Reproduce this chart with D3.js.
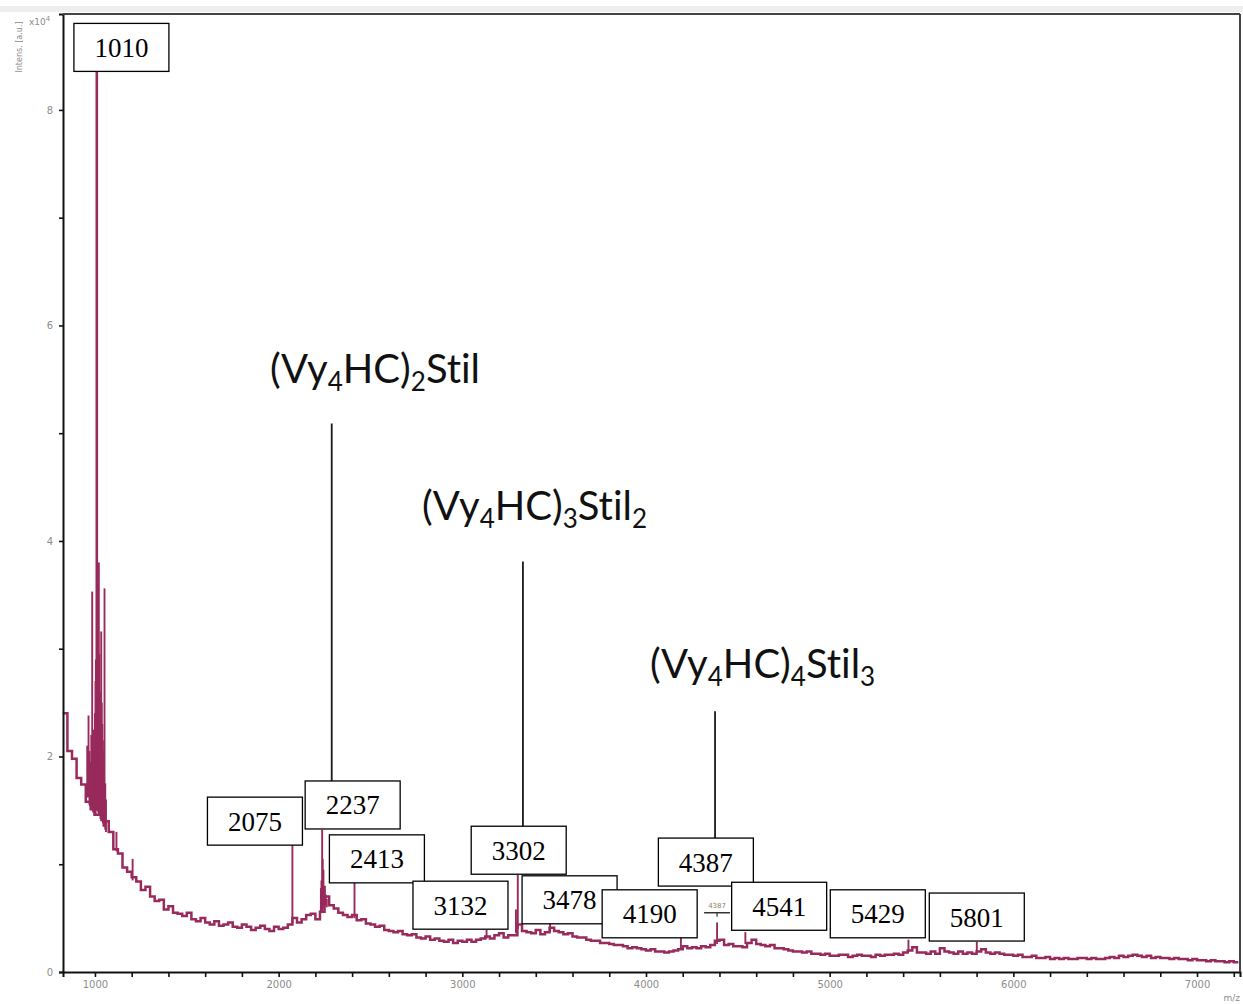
<!DOCTYPE html>
<html>
<head>
<meta charset="utf-8">
<script src="https://cdn.jsdelivr.net/npm/d3@7"></script>
<style>
  body { margin: 0; background: #fff; }
  svg { display: block; }
</style>
</head>
<body>
<svg id="chart" width="1243" height="1004"></svg>
<script>
// ---- MALDI-TOF spectrum values (intensity in units of 10^4 a.u.) ----

// Continuum trace, sampled every 25 m/z starting at 825
const traceStartMz = 825;
const traceStepMz = 25;
const traceIntensity = [
  2.40, 2.05, 1.98, 1.80, 1.74, 1.58, 1.55, 1.46, 1.52, 1.40, 1.30, 1.14, 1.10, 0.97, 0.93, 0.88, 0.84, 0.76, 0.79, 0.70,
  0.66, 0.67, 0.58, 0.61, 0.55, 0.54, 0.52, 0.55, 0.49, 0.47, 0.50, 0.46, 0.44, 0.47, 0.43, 0.44, 0.46, 0.42, 0.41, 0.44,
  0.42, 0.39, 0.41, 0.43, 0.40, 0.38, 0.42, 0.40, 0.41, 0.44, 0.50, 0.46, 0.49, 0.53, 0.54, 0.49, 0.56, 0.70, 0.62, 0.59,
  0.55, 0.53, 0.51, 0.53, 0.48, 0.49, 0.45, 0.44, 0.42, 0.43, 0.39, 0.38, 0.37, 0.38, 0.35, 0.34, 0.35, 0.32, 0.31, 0.33,
  0.30, 0.31, 0.29, 0.28, 0.30, 0.27, 0.29, 0.28, 0.30, 0.28, 0.30, 0.31, 0.33, 0.31, 0.34, 0.36, 0.32, 0.34, 0.34, 0.44,
  0.38, 0.37, 0.36, 0.39, 0.35, 0.37, 0.41, 0.38, 0.37, 0.35, 0.36, 0.33, 0.32, 0.32, 0.30, 0.29, 0.29, 0.27, 0.27, 0.26,
  0.25, 0.25, 0.24, 0.22, 0.23, 0.22, 0.21, 0.20, 0.21, 0.19, 0.19, 0.18, 0.19, 0.20, 0.21, 0.24, 0.22, 0.23, 0.22, 0.24,
  0.23, 0.25, 0.29, 0.30, 0.25, 0.26, 0.24, 0.24, 0.23, 0.27, 0.30, 0.26, 0.25, 0.24, 0.25, 0.22, 0.22, 0.21, 0.20, 0.19,
  0.19, 0.18, 0.19, 0.17, 0.17, 0.16, 0.17, 0.15, 0.15, 0.16, 0.16, 0.14, 0.15, 0.16, 0.15, 0.15, 0.14, 0.16, 0.15, 0.16,
  0.16, 0.17, 0.16, 0.18, 0.20, 0.23, 0.18, 0.18, 0.17, 0.19, 0.17, 0.22, 0.19, 0.18, 0.17, 0.19, 0.17, 0.18, 0.17, 0.19,
  0.21, 0.18, 0.17, 0.18, 0.17, 0.16, 0.16, 0.15, 0.16, 0.14, 0.14, 0.15, 0.13, 0.13, 0.14, 0.12, 0.13, 0.12, 0.13, 0.12,
  0.12, 0.13, 0.13, 0.12, 0.13, 0.12, 0.12, 0.13, 0.14, 0.13, 0.15, 0.14, 0.15, 0.16, 0.15, 0.14, 0.15, 0.13, 0.14, 0.13,
  0.13, 0.12, 0.13, 0.12, 0.12, 0.11, 0.12, 0.11, 0.11, 0.10, 0.11, 0.10, 0.10, 0.09, 0.10, 0.09, 0.09
];

// Centroided peaks: position, apex and foot of each spike
const peakMz   = [958, 965, 970, 975, 980, 985, 990, 996, 1000, 1003, 1005, 1008, 1010, 1012, 1015, 1018, 1021, 1024,
                  1027, 1030, 1034, 1037, 1040, 1043, 1046, 1049, 1052, 1056, 1060, 1117, 1205,
                  2075, 2230, 2233, 2237, 2240, 2244, 2247, 2252, 2256, 2262, 2413,
                  3132, 3292, 3302, 3478, 4190, 4387, 4541, 5429, 5801];
const peakTop  = [2.10, 2.38, 2.05, 1.95, 2.20, 3.53, 2.25, 2.05, 2.40, 2.70, 2.90, 2.55, 8.80, 2.80, 3.10, 2.45, 3.80, 2.95,
                  2.60, 2.35, 3.16, 2.50, 2.30, 2.15, 1.90, 2.05, 3.56, 1.75, 1.60, 1.30, 1.05,
                  1.18, 0.78, 0.85, 1.32, 1.05, 0.95, 0.75, 0.80, 0.72, 0.68, 0.83,
                  0.39, 0.58, 0.90, 0.45, 0.32, 0.46, 0.37, 0.30, 0.28];
const peakBase = [1.62, 1.62, 1.55, 1.50, 1.50, 1.50, 1.48, 1.45, 1.45, 1.45, 1.50, 1.50, 1.50, 1.50, 1.50, 1.48, 1.45, 1.45,
                  1.45, 1.42, 1.40, 1.40, 1.40, 1.38, 1.35, 1.35, 1.35, 1.32, 1.30, 1.12, 0.85,
                  0.45, 0.55, 0.55, 0.55, 0.58, 0.60, 0.62, 0.62, 0.62, 0.60, 0.50,
                  0.31, 0.36, 0.40, 0.37, 0.21, 0.26, 0.26, 0.19, 0.19];

// Labelled masses
const labelText = ["1010", "2075", "2237", "2413", "3132", "3302", "3478", "4190", "4387", "4541", "5429", "5801"];

// Axis ticks
const xMajorTicks = [1000, 2000, 3000, 4000, 5000, 6000, 7000];
const xTickLabels = ["1000", "2000", "3000", "4000", "5000", "6000", "7000"];
const yMajorTicks = [0, 2, 4, 6, 8];
const yTickLabels = ["0", "2", "4", "6", "8"];

// Oligomer assignments: [text, subscript?] runs
const assignmentParts = [
  [["(Vy", 0], ["4", 1], ["HC)", 0], ["2", 1], ["Stil", 0]],
  [["(Vy", 0], ["4", 1], ["HC)", 0], ["3", 1], ["Stil", 0], ["2", 1]],
  [["(Vy", 0], ["4", 1], ["HC)", 0], ["4", 1], ["Stil", 0], ["3", 1]]
];

// ---- Layout (data coordinates for annotation placement) ----
const labelBoxMz  = [1144, 1871, 2403, 2535, 2990, 3307, 3584, 4020, 4326, 4725, 5262, 5801];
const labelBoxInt = [8.58, 1.40, 1.55, 1.05, 0.62, 1.13, 0.67, 0.54, 1.02, 0.61, 0.54, 0.51];
const boxW = 95, boxH = 48;

const assignTextMz  = [1953, 2780, 4022];
const assignTextInt = [5.47, 4.19, 2.73];
const assignLineMz  = [2289, 3330, 4376];
const assignLineTop = [5.09, 3.81, 2.42];
const assignLineBox = [2, 5, 8];   // index of the label box each leader line ends on

// ---- Chart ----
const svg = d3.select("#chart");
const plotLeft = 63, plotRight = 1240, plotTop = 14, plotBottom = 972;

const x = d3.scaleLinear().domain([826, 7234]).range([plotLeft, plotRight]);
const y = d3.scaleLinear().domain([0, 8.89]).range([plotBottom, plotTop]);

const traceColor = "#982a5c";

// faint band above the frame
svg.append("rect").attr("x", 0).attr("y", 6).attr("width", 1243).attr("height", 6).attr("fill", "#eeeeee");

// continuum trace
const trace = traceIntensity.map((v, i) => [traceStartMz + i * traceStepMz, v]);
svg.append("path")
  .datum(trace)
  .attr("fill", "none")
  .attr("stroke", traceColor)
  .attr("stroke-width", 2.5)
  .attr("stroke-linejoin", "miter")
  .attr("d", d3.line().x(d => x(d[0])).y(d => y(d[1])).curve(d3.curveStepAfter));

// peak spikes
svg.append("g").selectAll("line")
  .data(peakMz.map((m, i) => ({ m, t: peakTop[i], b: peakBase[i] })))
  .join("line")
  .attr("x1", d => x(d.m)).attr("x2", d => x(d.m))
  .attr("y1", d => y(d.b)).attr("y2", d => y(d.t))
  .attr("stroke", traceColor)
  .attr("stroke-width", d => d.t > 5 ? 2.6 : 1.9);

// small instrument annotation on the 4387 peak
const tinyX = x(4387);
const tinyY = y(0.55);
svg.append("line").attr("x1", tinyX - 13).attr("x2", tinyX + 13).attr("y1", tinyY).attr("y2", tinyY)
  .attr("stroke", "#333").attr("stroke-width", 1.5);
svg.append("line").attr("x1", tinyX).attr("x2", tinyX).attr("y1", tinyY).attr("y2", tinyY + 4)
  .attr("stroke", "#333").attr("stroke-width", 1.2);
svg.append("text").attr("x", tinyX).attr("y", tinyY - 5).attr("text-anchor", "middle")
  .attr("font-family", "DejaVu Sans").attr("font-size", 7).attr("fill", "#8a8060").text("4387");

// axes
const xAxis = d3.axisBottom(x).tickValues(d3.range(1000, 7201, 200)).tickSize(5).tickPadding(4)
  .tickFormat(d => { const k = xMajorTicks.indexOf(d); return k >= 0 ? xTickLabels[k] : ""; });
const gx = svg.append("g").attr("transform", `translate(0,${plotBottom})`).call(xAxis);

const yAxis = d3.axisLeft(y).tickValues(d3.range(0, 9, 1)).tickSize(4).tickPadding(6)
  .tickFormat(d => { const k = yMajorTicks.indexOf(d); return k >= 0 ? yTickLabels[k] : ""; });
const gy = svg.append("g").attr("transform", `translate(${plotLeft},0)`).call(yAxis);

[gx, gy].forEach(g => {
  g.select(".domain").attr("stroke", "#111").attr("stroke-width", 2);
  g.selectAll(".tick line").attr("stroke", "#111").attr("stroke-width", 1.6);
  g.selectAll(".tick text").attr("fill", "#8c8c8c").attr("font-family", "DejaVu Sans").attr("font-size", 10);
});

// frame top and right
svg.append("line").attr("x1", plotLeft).attr("x2", plotRight).attr("y1", plotTop).attr("y2", plotTop)
  .attr("stroke", "#444").attr("stroke-width", 2);
svg.append("line").attr("x1", plotRight).attr("x2", plotRight).attr("y1", plotTop).attr("y2", plotBottom)
  .attr("stroke", "#444").attr("stroke-width", 2);

// axis titles
svg.append("text").attr("transform", "translate(22,47) rotate(-90)").attr("text-anchor", "middle")
  .attr("font-family", "DejaVu Sans").attr("font-size", 8).attr("fill", "#8c8c8c").text("Intens. [a.u.]");
const mult = svg.append("text").attr("x", 29).attr("y", 25)
  .attr("font-family", "DejaVu Sans").attr("font-size", 9).attr("fill", "#8c8c8c");
mult.append("tspan").text("x10");
mult.append("tspan").attr("dy", -4).attr("font-size", 7).text("4");
svg.append("text").attr("x", 1240).attr("y", 1001).attr("text-anchor", "end")
  .attr("font-family", "DejaVu Sans").attr("font-size", 9).attr("fill", "#8c8c8c").text("m/z");

// leader lines from assignments to label boxes
assignLineMz.forEach((m, i) => {
  const k = assignLineBox[i];
  svg.append("line")
    .attr("x1", x(m)).attr("x2", x(m))
    .attr("y1", y(assignLineTop[i])).attr("y2", y(labelBoxInt[k]) - boxH / 2)
    .attr("stroke", "#1a1a1a").attr("stroke-width", 1.8);
});

// mass label boxes
const boxes = svg.append("g").selectAll("g")
  .data(labelText.map((t, i) => ({ t, cx: x(labelBoxMz[i]), cy: y(labelBoxInt[i]) })))
  .join("g");
boxes.append("rect")
  .attr("x", d => d.cx - boxW / 2).attr("y", d => d.cy - boxH / 2)
  .attr("width", boxW).attr("height", boxH)
  .attr("fill", "#fff").attr("stroke", "#000").attr("stroke-width", 1.3);
boxes.append("text")
  .attr("x", d => d.cx).attr("y", d => d.cy + 9.5)
  .attr("text-anchor", "middle")
  .attr("font-family", "Liberation Serif, Times New Roman, serif")
  .attr("font-size", 27).attr("fill", "#000")
  .text(d => d.t);

// oligomer assignment texts with subscripts
assignmentParts.forEach((parts, i) => {
  const t = svg.append("text")
    .attr("x", x(assignTextMz[i])).attr("y", y(assignTextInt[i]))
    .attr("font-family", "Lato, Open Sans, sans-serif")
    .style("font-variant-ligatures", "none")
    .attr("font-size", 40).attr("fill", "#111");
  let sub = false;
  parts.forEach(([s, isSub]) => {
    const ts = t.append("tspan").text(s);
    if (isSub && !sub) { ts.attr("dy", 8).attr("font-size", 26); sub = true; }
    else if (isSub && sub) { ts.attr("font-size", 26); }
    else if (!isSub && sub) { ts.attr("dy", -8); sub = false; }
  });
});
</script>
</body>
</html>
